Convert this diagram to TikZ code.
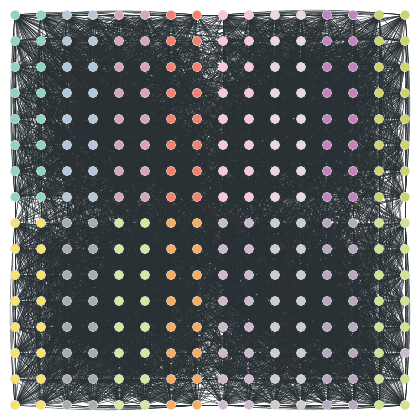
\documentclass[tikz,border=0pt]{standalone}
\usetikzlibrary{calc}
\pgfdeclarelayer{bg}
\pgfsetlayers{bg,main}
\definecolor{t0}{HTML}{8DD3C7}
\definecolor{t1}{HTML}{B3C8D8}
\definecolor{t2}{HTML}{D6A5B9}
\definecolor{t3}{HTML}{F5806F}
\definecolor{t4}{HTML}{F9C6DE}
\definecolor{t5}{HTML}{EBD7E3}
\definecolor{t6}{HTML}{C283C0}
\definecolor{t7}{HTML}{CDD56A}
\definecolor{b0}{HTML}{F7E36B}
\definecolor{b1}{HTML}{A9ADAA}
\definecolor{b2}{HTML}{D6E79E}
\definecolor{b3}{HTML}{F7AD60}
\definecolor{b4}{HTML}{CDB8D2}
\definecolor{b5}{HTML}{CDCDCB}
\definecolor{b6}{HTML}{B7A9C2}
\definecolor{b7}{HTML}{CFE28D}
\definecolor{edgecol}{HTML}{283033}
\tikzset{
  vx/.style={circle, minimum size=9.5pt, inner sep=0pt, draw=white!75!gray, line width=0.4pt},
  edge/.style={draw=edgecol, line width=0.5pt, opacity=0.8},
}
\begin{document}
\begin{tikzpicture}[x=1pt,y=-1pt]
\useasboundingbox (0,0) rectangle (420,420);
% nodes
\foreach \r in {0,...,15}{
  \foreach \c in {0,...,15}{
    \pgfmathtruncatemacro\g{floor(\c/2)}
    \ifnum\r<8 \def\h{t}\else\def\h{b}\fi
    \ifnum\r=13 \ifnum\c=15 \def\h{b}\def\g{4}\fi\fi
    \node[vx, fill=\h\g] (n-\r-\c) at (15+26*\c, 15+26*\r) {};
  }
}
\pgfmathsetseed{11}
\begin{pgfonlayer}{bg}
% edges inside each quadrant
\foreach \qr in {0,8}{
 \foreach \qc in {0,8}{
  \foreach \a in {0,...,62}{
   \pgfmathtruncatemacro\ra{\qr+floor(\a/8)}
   \pgfmathtruncatemacro\ca{\qc+mod(\a,8)}
   \pgfmathtruncatemacro\s{\a+1}
   \foreach \b in {\s,...,63}{
    \pgfmathrandominteger{\rnd}{0}{99}
    \ifnum\rnd<62
     \pgfmathtruncatemacro\rb{\qr+floor(\b/8)}
     \pgfmathtruncatemacro\cb{\qc+mod(\b,8)}
     \ifnum\ra=\rb
       \ifnum\ra<8
         \draw[edge] (n-\ra-\ca) to[bend left=5] (n-\rb-\cb);
       \else
         \draw[edge] (n-\ra-\ca) to[bend right=5] (n-\rb-\cb);
       \fi
     \else
       \ifnum\ca=\cb
         \ifnum\ca<8
           \draw[edge] (n-\ra-\ca) to[bend right=5] (n-\rb-\cb);
         \else
           \draw[edge] (n-\ra-\ca) to[bend left=5] (n-\rb-\cb);
         \fi
       \else
         \draw[edge] (n-\ra-\ca) -- (n-\rb-\cb);
       \fi
     \fi
    \fi
   }
  }
 }
}
% edges between quadrants
\foreach \i in {1,...,3200}{
  \pgfmathrandominteger{\ra}{0}{15}
  \pgfmathrandominteger{\ca}{0}{15}
  \pgfmathrandominteger{\rb}{0}{15}
  \pgfmathrandominteger{\cb}{0}{15}
  \pgfmathtruncatemacro\qa{(\ra>7)*2+(\ca>7)}
  \pgfmathtruncatemacro\qb{(\rb>7)*2+(\cb>7)}
  \ifnum\qa=\qb\else
    \draw[edge] (n-\ra-\ca) -- (n-\rb-\cb);
  \fi
}
\end{pgfonlayer}
\end{tikzpicture}
\end{document}
